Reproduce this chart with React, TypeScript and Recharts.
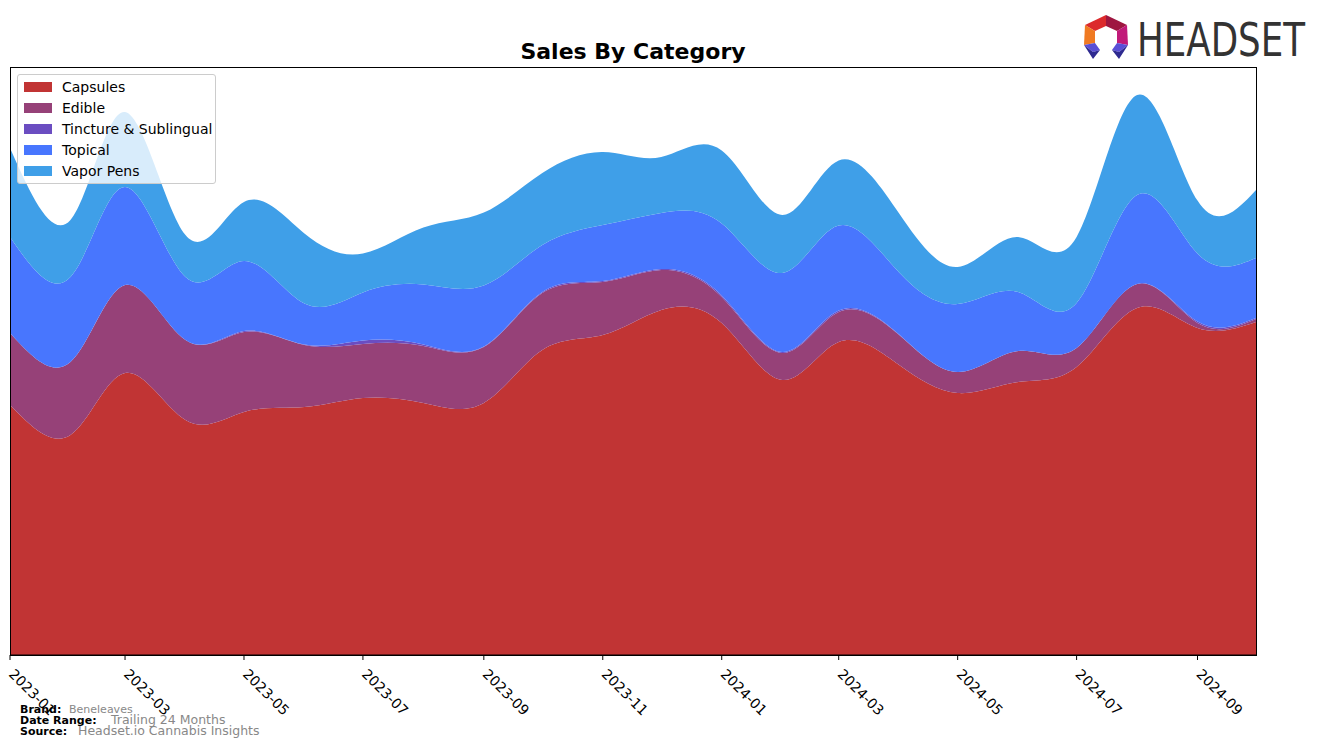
import { AreaChart, Area, XAxis, YAxis, Legend } from 'recharts'

// monthly points, Jan 2023 .. Oct 2024
const MONTHS = [
  '2023-01', '2023-02', '2023-03', '2023-04', '2023-05', '2023-06', '2023-07', '2023-08',
  '2023-09', '2023-10', '2023-11', '2023-12', '2024-01', '2024-02', '2024-03', '2024-04',
  '2024-05', '2024-06', '2024-07', '2024-08', '2024-09', '2024-10',
]

const TICK_MONTHS = ['2023-01', '2023-03', '2023-05', '2023-07', '2023-09', '2023-11', '2024-01', '2024-03', '2024-05', '2024-07', '2024-09']

const capsules = [250, 220, 282, 235, 243, 248, 257, 252, 252, 305, 320, 345, 332, 275, 313, 290, 262, 273, 288, 347, 327, 333]
const edible = [72, 73, 88, 80, 80, 62, 54, 57, 56, 57, 53, 40, 26, 27, 30, 30, 21, 31, 19, 24, 5, 3]
const tincture = [0, 0, 0, 0, 1, 0.5, 3.5, 1.5, 0.5, 1, 1, 1, 1.5, 1, 1.5, 0.5, 0, 0, 0, 0, 1.5, 1]
const topical = [96, 85, 98, 63, 70, 41, 48, 60, 61, 47, 56, 56, 72, 79, 85, 62, 68, 59, 45, 89, 68, 60]
const vaporPens = [89, 57, 75, 42, 59, 70, 39, 57, 73, 72, 73, 56, 73, 58, 65, 59, 37, 55, 66, 100, 53, 68]

const SERIES = [
  { key: 'capsules', name: 'Capsules', color: '#c13434' },
  { key: 'edible', name: 'Edible', color: '#964178' },
  { key: 'tincture', name: 'Tincture & Sublingual', color: '#6b4dc1' },
  { key: 'topical', name: 'Topical', color: '#4876fe' },
  { key: 'vaporPens', name: 'Vapor Pens', color: '#3f9fe8' },
]

const toTime = (m: string) => {
  const [y, mo] = m.split('-').map(Number)
  return Date.UTC(y, mo - 1, 1)
}

const data = MONTHS.map((m, i) => ({
  t: toTime(m),
  capsules: capsules[i],
  edible: edible[i],
  tincture: tincture[i],
  topical: topical[i],
  vaporPens: vaporPens[i],
}))

const X_DOMAIN = [toTime(MONTHS[0]), toTime(MONTHS[MONTHS.length - 1])]
const Y_DOMAIN = [0, 588]

const fmtMonth = (t: number) => {
  const d = new Date(t)
  return `${d.getUTCFullYear()}-${String(d.getUTCMonth() + 1).padStart(2, '0')}`
}

function DateTick({ x, payload }: any) {
  return (
    <text
      x={x - 2}
      y={675}
      transform={`rotate(45 ${x - 2} 675)`}
      textAnchor="start"
      fontSize={14}
      fontFamily="DejaVu Sans"
      fill="#000"
    >
      {fmtMonth(payload.value)}
    </text>
  )
}

function LegendBox() {
  return (
    <div
      style={{
        background: 'rgba(255,255,255,0.8)',
        border: '1px solid #cccccc',
        borderRadius: 3,
        boxSizing: 'border-box',
        width: 199,
        height: 110,
        padding: '1px 0 0 6px',
        fontFamily: 'DejaVu Sans',
        fontSize: 14,
        color: '#000',
      }}
    >
      {SERIES.map((s) => (
        <div key={s.key} style={{ display: 'flex', alignItems: 'center', height: 21 }}>
          <span style={{ display: 'inline-block', width: 28, height: 10, background: s.color, marginRight: 10 }} />
          <span>{s.name}</span>
        </div>
      ))}
    </div>
  )
}

function Logo() {
  return (
    <g>
      <polygon points="1106,15 1085,25 1095,31 1106,26" fill="#dc2a2c" />
      <polygon points="1106,15 1127,25 1117,31 1106,26" fill="#9e1640" />
      <polygon points="1085,25 1084,45 1095,43 1095,31" fill="#f07a22" />
      <polygon points="1127,25 1128,45 1117,43 1117,31" fill="#c11a79" />
      <polygon points="1084,45 1095,43 1100,50 1093,52" fill="#5a4fd6" />
      <polygon points="1084,45 1093,52 1100,50 1093,59" fill="#2e2a90" />
      <polygon points="1128,45 1117,43 1112,50 1119,52" fill="#5a4fd6" />
      <polygon points="1128,45 1119,52 1112,50 1119,59" fill="#2e2a90" />
      <text
        x={1137}
        y={56}
        fontSize={46}
        fontFamily="'Liberation Sans Narrow', 'DejaVu Sans Condensed', sans-serif"
        fill="#333333"
        textLength={168}
        lengthAdjust="spacingAndGlyphs"
      >
        HEADSET
      </text>
    </g>
  )
}

export default function App() {
  return (
    <div style={{ position: 'absolute', left: 0, top: 0, width: 1320, height: 747, background: '#fff' }}>
      <AreaChart width={1320} height={747} data={data} margin={{ top: 67, right: 64, bottom: 0, left: 10 }}>
        <XAxis
          dataKey="t"
          type="number"
          domain={X_DOMAIN}
          ticks={TICK_MONTHS.map(toTime)}
          interval={0}
          height={92}
          tickSize={5}
          tickMargin={0}
          tick={<DateTick />}
          axisLine={{ stroke: '#000' }}
          tickLine={{ stroke: '#000' }}
          allowDataOverflow
        />
        <YAxis type="number" domain={Y_DOMAIN} width={0} tick={false} tickLine={false} axisLine={false} allowDataOverflow />
        {SERIES.map((s) => (
          <Area
            key={s.key}
            type="natural"
            dataKey={s.key}
            name={s.name}
            stackId="1"
            fill={s.color}
            fillOpacity={1}
            stroke="none"
            isAnimationActive={false}
          />
        ))}
        <Legend
          layout="vertical"
          align="center"
          verticalAlign="middle"
          wrapperStyle={{ left: 17, top: 74, width: 199, height: 110 }}
          content={<LegendBox />}
        />
      </AreaChart>
      <svg width={1320} height={747} style={{ position: 'absolute', left: 0, top: 0, pointerEvents: 'none' }}>
        <rect x={10.5} y={67.5} width={1246} height={588} fill="none" stroke="#000" strokeWidth={1} />
        <text x={633} y={59} textAnchor="middle" fontSize={22} fontWeight="bold" fontFamily="DejaVu Sans" fill="#000">
          Sales By Category
        </text>
        <Logo />
        <g fontFamily="DejaVu Sans">
          <text x={20} y={713} fontSize={11} fontWeight="bold" fill="#000">Brand:</text>
          <text x={69} y={713} fontSize={11} fill="#888">Beneleaves</text>
          <text x={20} y={724} fontSize={11} fontWeight="bold" fill="#000">Date Range:</text>
          <text x={111} y={724} fontSize={12.5} fill="#888">Trailing 24 Months</text>
          <text x={20} y={735} fontSize={11} fontWeight="bold" fill="#000">Source:</text>
          <text x={78} y={735} fontSize={12.5} fill="#888">Headset.io Cannabis Insights</text>
        </g>
      </svg>
    </div>
  )
}
